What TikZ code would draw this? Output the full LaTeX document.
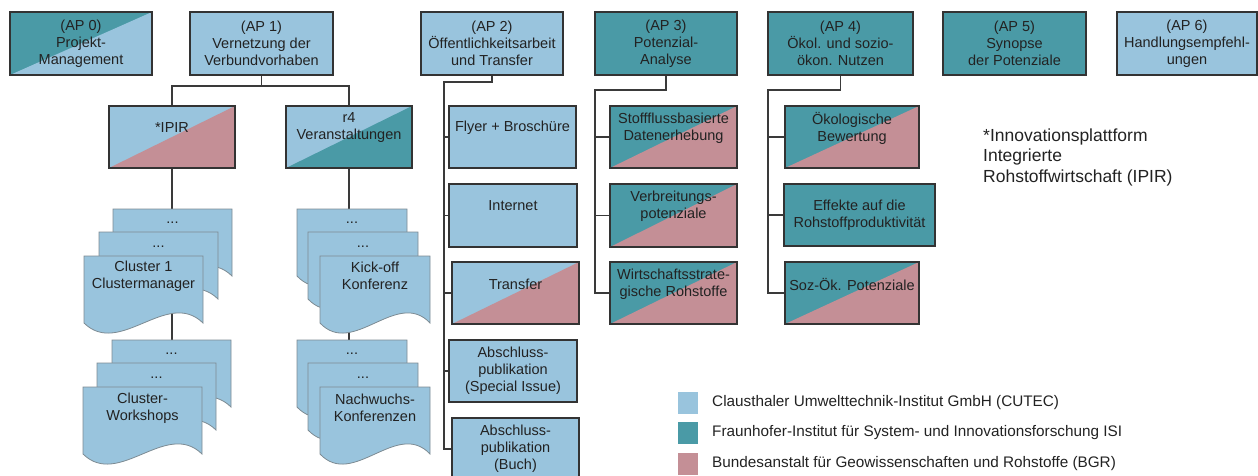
\documentclass[tikz,border=0pt]{standalone}
\usepackage{fontspec}
\setmainfont{Liberation Sans}
\definecolor{lb}{HTML}{99C4DD}
\definecolor{tl}{HTML}{4A9AA6}
\definecolor{pk}{HTML}{C48F96}
\definecolor{bd}{HTML}{333333}
\definecolor{ln}{HTML}{3A3A3A}
\definecolor{dl}{HTML}{7D8B93}
\definecolor{tx}{HTML}{222222}
\newcommand{\boxfont}{\fontsize{14.5}{17}\selectfont}
\newcommand{\notefont}{\fontsize{17.5}{20.5}\selectfont}
\newcommand{\legfont}{\fontsize{15.3}{18}\selectfont}
\newcommand{\BoxNode}[7]{%
  \pgfmathsetmacro{\myBW}{#5-#3}\pgfmathsetmacro{\myBH}{#6-#4}%
  \pgfmathsetmacro{\myCX}{(#3+#5)/2}\pgfmathsetmacro{\myCY}{(#4+#6)/2}%
  \node[box,#1,minimum width=\myBW pt,minimum height=\myBH pt] (#2) at (\myCX,\myCY) {#7};}
\newcommand{\DocShape}[4]{%
  \path[docs] (#2,#3) -- (#2+#4,#3) -- (#2+#4,#3+67)
    .. controls (#2+0.7*#4,#3+32) and (#2+0.3*#4,#3+102) .. (#2,#3+67) -- cycle;
  \coordinate (#1) at (#2+#4/2,#3);}
\tikzset{
  box/.style={draw=bd, line width=1.4pt, inner sep=0pt, align=center, text=tx, font=\boxfont},
  split/.style 2 args={fill=#1, path picture={\fill[#2] (path picture bounding box.south west) -- (path picture bounding box.south east) -- (path picture bounding box.north east) -- cycle;}},
  txt/.style={inner sep=0pt, align=center, text=tx, font=\boxfont},
  conn/.style={draw=ln, line width=1.3pt},
  docs/.style={draw=dl, line width=0.8pt, fill=lb},
  legsq/.style={inner sep=0pt, minimum width=20pt, minimum height=22pt},
  legtxt/.style={inner sep=0pt, anchor=west, text=tx, font=\legfont},
}
\begin{document}
\begin{tikzpicture}[x=1pt,y=-1pt]
\useasboundingbox (0,0) rectangle (1258,475);
\clip (0,0) rectangle (1258,475);
% top row
\BoxNode{split={tl}{lb}}{ap0}{10}{12}{152}{75}{(AP 0)\\Projekt-\\Management}
\BoxNode{fill=lb}{ap1}{190}{12}{333}{75}{(AP 1)\\Vernetzung der\\Verbundvorhaben}
\BoxNode{fill=lb}{ap2}{421}{12}{563}{75}{(AP 2)\\Öffentlichkeitsarbeit\\und Transfer}
\BoxNode{fill=tl}{ap3}{595}{12}{737}{75}{(AP 3)\\Potenzial-\\Analyse}
\BoxNode{fill=tl}{ap4}{768}{12}{913}{75}{(AP 4)\\Ökol. und sozio-\\ökon. Nutzen}
\BoxNode{fill=tl}{ap5}{943}{12}{1086}{75}{(AP 5)\\Synopse\\der Potenziale}
\BoxNode{fill=lb}{ap6}{1117}{12}{1257}{75}{(AP 6)\\Handlungsempfehl-\\ungen}
% AP1 children
\BoxNode{split={lb}{pk}}{ipir}{109}{106}{235}{168}{}
\node[txt] (ipirT) at (172,128) {*IPIR};
\BoxNode{split={lb}{tl}}{r4}{286}{106}{412}{168}{}
\node[txt] (r4T) at (349,128) {r4\\Veranstaltungen};
% AP2 children
\BoxNode{fill=lb}{flyer}{449}{106}{576}{168}{}
\node[txt] (flyerT) at (512.5,128) {Flyer + Broschüre};
\BoxNode{fill=lb}{inet}{449}{184}{577}{247}{}
\node[txt] (inetT) at (513,206) {Internet};
\BoxNode{split={lb}{pk}}{transfer}{452}{262}{579}{324}{}
\node[txt] (transferT) at (515.5,284) {Transfer};
\BoxNode{fill=lb}{special}{449}{340}{577}{402}{Abschluss-\\publikation\\(Special Issue)}
\BoxNode{fill=lb}{buch}{452}{418}{579}{480}{Abschluss-\\publikation\\(Buch)}
% AP3 children
\BoxNode{split={tl}{pk}}{stoff}{610}{106}{737}{168}{}
\node[txt] (stoffT) at (673.5,128) {Stoffflussbasierte\\Datenerhebung};
\BoxNode{split={tl}{pk}}{verb}{610}{184}{737}{247}{}
\node[txt] (verbT) at (673.5,206) {Verbreitungs-\\potenziale};
\BoxNode{split={tl}{pk}}{wirt}{610}{262}{737}{324}{}
\node[txt] (wirtT) at (673.5,284) {Wirtschaftsstrate-\\gische Rohstoffe};
% AP4 children
\BoxNode{split={tl}{pk}}{oeko}{785}{106}{919}{168}{}
\node[txt] (oekoT) at (852,128) {Ökologische\\Bewertung};
\BoxNode{fill=tl}{eff}{784}{184}{935}{246}{Effekte auf die\\Rohstoffproduktivität}
\BoxNode{split={tl}{pk}}{soz}{785}{262}{919}{324}{}
\node[txt] (sozT) at (852,284) {Soz-Ök. Potenziale};
% connectors
\coordinate (j1) at (261.5,86);
\draw[conn] (ap1.south) -- (j1);
\draw[conn] (ipir.north) |- (j1) -| (r4.north);
\coordinate (bBtop) at (171.5,340);
\coordinate (bDtop) at (349,340);
\draw[conn] (ipir.south) -- (ipir.south |- bBtop);
\draw[conn] (r4.south) -- (r4.south |- bDtop);
\coordinate (s2) at (444,82);
\draw[conn] (ap2.south) |- (s2) -- (s2 |- buch.west) -- (buch.west);
\foreach \n in {flyer,inet,transfer,special} \draw[conn] (s2 |- \n.west) -- (\n.west);
\coordinate (s3) at (595,90);
\draw[conn] (ap3.south) |- (s3) -- (s3 |- wirt.west) -- (wirt.west);
\foreach \n in {stoff,verb} \draw[conn] (s3 |- \n.west) -- (\n.west);
\coordinate (s4) at (768,90);
\draw[conn] (ap4.south) |- (s4) -- (s4 |- soz.west) -- (soz.west);
\foreach \n in {oeko,eff} \draw[conn] (s4 |- \n.west) -- (\n.west);
% document stacks
\DocShape{dAback}{113}{209}{119}
\DocShape{dAmid}{99}{232}{119}
\DocShape{dAfront}{84}{256}{119}
\node[txt] (tAback) at (172.5,223) {...};
\node[txt] (tAmid) at (158.5,247) {...};
\node[txt] (tAfront) at (143.5,276) {Cluster 1\\Clustermanager};
\DocShape{dBback}{112}{340}{119}
\DocShape{dBmid}{97}{363}{119}
\DocShape{dBfront}{83}{387}{119}
\node[txt] (tBback) at (171.5,354) {...};
\node[txt] (tBmid) at (156.5,378) {...};
\node[txt] (tBfront) at (142.5,408) {Cluster-\\Workshops};
\DocShape{dCback}{297}{209}{110}
\DocShape{dCmid}{308}{232}{110}
\DocShape{dCfront}{320}{256}{110}
\node[txt] (tCback) at (352,223) {...};
\node[txt] (tCmid) at (363,247) {...};
\node[txt] (tCfront) at (375,276) {Kick-off\\Konferenz};
\DocShape{dDback}{297}{340}{110}
\DocShape{dDmid}{308}{363}{110}
\DocShape{dDfront}{320}{387}{110}
\node[txt] (tDback) at (352,354) {...};
\node[txt] (tDmid) at (363,378) {...};
\node[txt] (tDfront) at (375,408) {Nachwuchs-\\Konferenzen};
% footnote
\node[inner sep=0pt, anchor=west, align=left, text=tx, font=\notefont] (fn) at (983,157) {*Innovationsplattform\\Integrierte\\Rohstoffwirtschaft (IPIR)};
% legend
\node[legsq, fill=lb] (lg1) at (688,403) {};
\node[legsq, fill=tl] (lg2) at (688,433) {};
\node[legsq, fill=pk] (lg3) at (688,464) {};
\node[legtxt] (lt1) at (712,403) {Clausthaler Umwelttechnik-Institut GmbH (CUTEC)};
\node[legtxt] (lt2) at (712,433) {Fraunhofer-Institut für System- und Innovationsforschung ISI};
\node[legtxt] (lt3) at (712,464) {Bundesanstalt für Geowissenschaften und Rohstoffe (BGR)};
\end{tikzpicture}
\end{document}
